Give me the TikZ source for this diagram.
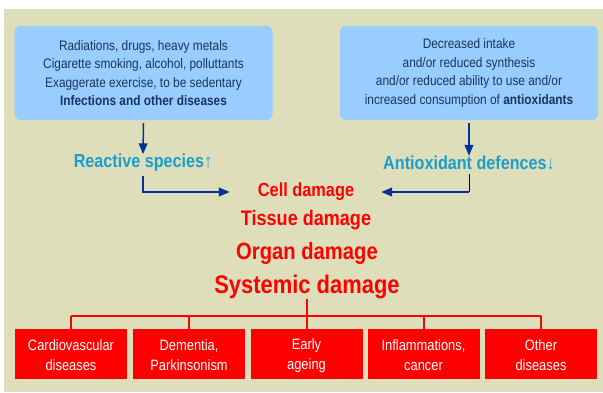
\documentclass[tikz,border=0pt]{standalone}
\usepackage{fontspec}
\setmainfont[FakeStretch=0.86]{Liberation Sans}
\usetikzlibrary{arrows}
\usetikzlibrary{calc}

\definecolor{paneKhaki}{RGB}{222,222,186}
\definecolor{causeBlue}{RGB}{153,204,255}
\definecolor{causeText}{RGB}{23,54,93}
\definecolor{linkNavy}{RGB}{0,51,153}
\definecolor{stateCyan}{RGB}{28,158,204}
\definecolor{damageRed}{RGB}{255,0,0}

\tikzset{
	causeBox/.style={fill=causeBlue, rounded corners=6pt, minimum width=258pt, minimum height=94pt, text=causeText, align=center, font=\fontsize{13.8}{18.5}\selectfont},
	stateLabel/.style={text=stateCyan, inner sep=0pt, font=\bfseries\fontsize{18.8}{18.8}\selectfont},
	linkArrow/.style={-triangle 45, linkNavy, line width=1.5pt},
	redLine/.style={damageRed, line width=2pt}
}
\newcommand{\drawDamage}[4]{
	\node[text=damageRed, inner sep=0pt, font=\bfseries\fontsize{#3}{#3}\selectfont] (#1) at (#2) {#4};
}
\newcommand{\drawDisease}[3]{
	\node[fill=damageRed, text=white, minimum width=112pt, minimum height=50pt, inner sep=0pt, align=center, font=\fontsize{15}{20}\selectfont] (#1) at (#2) {\strut#3};
}

\begin{document}
\begin{tikzpicture}[x=1pt, y=-1pt]

		\coordinate (P_TL) at (0,0);
		\coordinate (P_BR) at (603,392);
		\coordinate (branch) at (306,316);

		\useasboundingbox (P_TL) rectangle (P_BR);
		\fill[paneKhaki] (4,9) rectangle (P_BR);

		\node[causeBox] (causeL) at (143.5,73) {Radiations, drugs, heavy metals\\Cigarette smoking, alcohol, polluttants\\Exaggerate exercise, to be sedentary\\\textbf{Infections and other diseases}};
		\node[causeBox] (causeR) at (469,73) {Decreased intake\\and/or reduced synthesis\\and/or reduced ability to use and/or\\increased consumption of \textbf{antioxidants}};

		\node[stateLabel] (reactive) at (143,163) {Reactive species↑};
		\node[stateLabel] (antiox) at (469,163) {Antioxidant defences↓};

		\drawDamage{cell}{306,192}{19}{Cell damage}
		\drawDamage{tissue}{306,220}{21}{Tissue damage}
		\drawDamage{organ}{307,253}{23.5}{Organ damage}
		\drawDamage{systemic}{307,287}{25.5}{Systemic damage}

		\drawDisease{dCardio}{71,354}{Cardiovascular\\diseases}
		\drawDisease{dDementia}{189,354}{Dementia,\\Parkinsonism}
		\drawDisease{dAgeing}{306.5,354}{Early\\ageing}
		\drawDisease{dInflam}{423.5,354}{Inflammations,\\cancer}
		\drawDisease{dOther}{541,354}{Other\\diseases}

		\draw[linkArrow] ([yshift=-3pt]causeL.south) -- (reactive.north);
		\draw[linkArrow] ([yshift=-3pt]causeR.south) -- (antiox.north);
		\draw[linkArrow, shorten <=4pt] (reactive.south) |- ([xshift=-28pt]cell.west);
		\draw[black, line width=1pt, shorten <=4pt] (antiox.south) -- (antiox.south |- cell.east);
		\draw[linkArrow] (antiox.south |- cell.east) -- ([xshift=27pt]cell.east);

		\draw[redLine] (systemic.south) -- (systemic.south |- branch);
		\draw[redLine] (dCardio.north |- branch) -- (dOther.north |- branch);
		\foreach \d in {dCardio, dDementia, dAgeing, dInflam, dOther}
			\draw[redLine] (\d.north) -- (\d.north |- branch);

	\end{tikzpicture}
\end{document}
